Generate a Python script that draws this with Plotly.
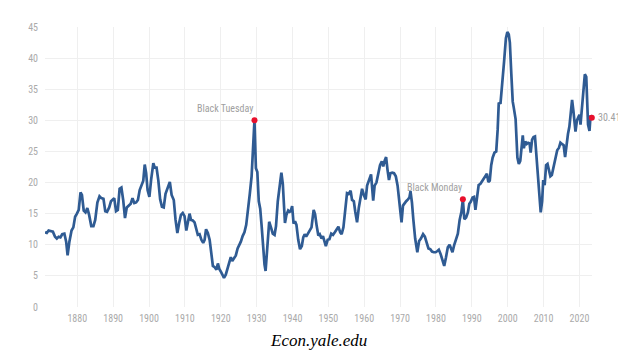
import plotly.graph_objects as go

years = [1871.0,1871.5,1872.0,1872.6,1873.2,1873.8,1874.3,1874.8,1875.3,1875.8,1876.4,1876.9,1877.3,1877.8,1878.4,1878.9,1879.4,1879.9,
1880.4,1880.9,1881.3,1881.8,1882.3,1882.8,1883.3,1883.9,1884.5,1885.0,1885.6,1886.2,1886.7,1887.3,1887.8,1888.3,1888.9,1889.4,1889.9,
1890.3,1890.8,1891.3,1891.8,1892.3,1892.8,1893.3,1893.8,1894.3,1894.9,1895.4,1895.9,1896.4,1896.9,1897.4,1897.9,1898.4,1898.8,1899.2,1899.6,
1900.1,1900.6,1901.2,1901.6,1902.1,1902.6,1903.1,1903.6,1904.1,1904.6,1905.3,1905.8,1906.3,1906.9,1907.4,1907.9,1908.4,1908.9,1909.4,1909.9,
1910.4,1910.9,1911.3,1911.7,1912.2,1912.7,1913.2,1913.6,1914.1,1914.6,1915.1,1915.5,1915.9,1916.4,1916.9,1917.4,1917.8,1918.3,1918.8,1919.2,1919.6,
1920.1,1920.5,1920.9,1921.4,1921.9,1922.4,1922.8,1923.2,1923.7,1924.2,1924.7,1925.2,1925.6,1926.1,1926.6,1927.1,1927.6,1928.1,1928.6,1929.0,1929.4,1929.8,
1930.2,1930.6,1931.0,1931.4,1931.8,1932.2,1932.5,1932.9,1933.5,1934.0,1934.5,1935.0,1935.4,1935.9,1936.4,1936.9,1937.3,1937.6,1937.9,1938.3,1938.8,1939.2,1939.5,1939.9,
1940.3,1940.7,1941.1,1941.6,1942.1,1942.6,1943.0,1943.4,1943.8,1944.3,1944.8,1945.3,1945.9,1946.3,1946.7,1947.2,1947.6,1948.1,1948.5,1948.9,1949.3,1949.8,
1950.3,1950.8,1951.3,1951.8,1952.3,1952.8,1953.3,1953.7,1954.2,1954.7,1955.2,1955.7,1956.2,1956.6,1957.1,1957.5,1958.0,1958.5,1959.0,1959.4,1959.9,
1960.4,1960.8,1961.3,1961.9,1962.5,1962.9,1963.4,1963.9,1964.4,1964.9,1965.3,1965.7,1966.1,1966.5,1966.9,1967.3,1967.8,1968.3,1968.8,1969.3,1969.7,
1970.1,1970.4,1970.8,1971.3,1971.7,1972.2,1972.6,1972.9,1973.3,1973.7,1974.2,1974.8,1975.3,1975.8,1976.4,1976.9,1977.4,1977.9,1978.4,1978.9,1979.4,1979.9,
1980.4,1980.8,1981.3,1981.8,1982.3,1982.8,1983.3,1983.8,1984.3,1984.6,1985.1,1985.6,1986.1,1986.6,1987.1,1987.5,1987.9,1988.4,1988.9,1989.3,1989.7,
1990.2,1990.6,1991.0,1991.4,1991.9,1992.4,1992.9,1993.4,1993.9,1994.2,1994.6,1995.0,1995.4,1995.8,1996.3,1996.8,1997.2,1997.5,1998.0,1998.5,1999.0,1999.5,1999.9,
2000.3,2000.6,2001.0,2001.4,2001.7,2002.2,2002.7,2003.1,2003.5,2003.9,2004.2,2004.5,2004.9,2005.3,2005.7,2006.1,2006.4,2006.8,2007.2,2007.6,2008.0,2008.4,2008.8,2009.2,2009.6,2009.9,
2010.3,2010.7,2011.1,2011.5,2011.9,2012.3,2012.8,2013.3,2013.8,2014.3,2014.7,2015.1,2015.6,2016.0,2016.4,2016.8,2017.2,2017.6,2017.95,2018.3,2018.6,2018.9,2019.3,2019.7,
2020.0,2020.3,2020.6,2020.9,2021.2,2021.5,2021.9,2022.1,2022.4,2022.8,2023.1,2023.45]

cape = [12.0,11.9,12.3,12.2,12.1,11.3,11.0,11.3,11.2,11.7,11.8,10.5,8.3,10.5,12.3,12.8,14.5,15.0,
15.6,18.4,18.0,15.5,15.2,15.9,14.8,13.0,13.0,14.0,16.8,17.8,17.5,17.4,15.4,15.3,16.0,17.0,17.3,
17.5,15.4,15.6,19.0,19.2,17.2,14.3,16.0,16.3,16.6,17.5,16.7,16.8,17.2,18.8,19.5,20.3,22.9,21.5,18.8,
17.7,20.5,23.1,22.4,22.4,20.3,17.3,16.1,16.0,18.2,19.2,20.1,18.0,17.2,14.0,11.9,13.5,14.8,15.1,14.6,
12.3,14.0,15.0,14.0,13.9,13.6,12.5,11.6,11.7,10.8,10.3,10.8,12.5,11.9,10.8,8.5,6.6,6.4,6.0,7.0,6.1,
5.6,5.0,4.7,5.2,6.3,7.4,8.0,7.4,7.9,8.3,9.4,9.9,10.5,11.4,12.0,13.2,15.3,18.2,21.0,25.5,30.0,22.3,
21.7,17.0,15.8,13.0,9.5,6.8,5.8,8.8,13.7,12.8,11.8,11.6,13.0,17.0,19.5,21.6,19.8,16.5,13.5,14.8,15.5,15.3,15.4,16.2,
13.4,13.8,13.2,10.8,9.3,9.8,11.2,11.7,11.3,11.8,12.3,12.8,15.6,14.9,13.2,11.5,11.7,11.0,11.4,10.5,9.8,10.8,
10.9,11.8,11.6,12.0,12.4,12.9,12.0,11.7,12.8,15.5,18.3,18.2,18.7,17.2,17.0,15.3,13.6,16.0,17.8,19.0,18.0,
17.3,19.5,20.2,21.3,17.1,19.5,20.0,21.4,22.8,23.4,22.6,23.5,24.1,22.0,20.4,21.5,21.6,21.5,21.0,19.5,17.5,
15.5,13.6,16.3,16.8,17.0,17.3,17.6,18.6,16.8,14.0,11.0,8.8,10.6,11.0,11.7,11.3,10.3,9.4,9.3,8.9,8.8,8.8,
9.0,9.2,8.5,7.4,6.6,8.0,9.6,10.0,9.2,8.8,10.0,11.0,11.8,14.0,15.3,17.3,14.1,14.4,15.2,16.6,16.9,
17.6,17.7,15.6,17.8,19.6,19.8,20.3,20.6,21.2,21.4,20.1,20.3,22.8,24.0,24.8,25.0,28.5,32.7,32.8,37.0,39.5,43.2,44.2,
43.8,42.5,37.5,33.0,32.0,30.2,24.0,23.0,23.5,26.0,27.6,25.5,26.6,26.2,26.4,26.3,24.8,26.9,27.3,27.4,24.0,20.5,17.5,15.2,17.0,20.4,
19.6,22.8,23.0,22.2,21.0,21.2,22.5,24.0,25.2,25.6,26.4,26.2,26.0,24.1,26.4,27.8,29.0,31.0,33.3,31.6,30.0,28.2,30.0,30.6,
30.9,29.3,31.5,33.5,35.5,37.4,37.0,33.5,29.3,28.3,30.8,30.41]

event_names = ["Black Tuesday", "Black Monday"]
event_years = [1929.4, 1987.5]
event_values = [30.0, 17.3]

x_ticks = [1880, 1890, 1900, 1910, 1920, 1930, 1940, 1950, 1960, 1970, 1980, 1990, 2000, 2010, 2020]
y_ticks = [0, 5, 10, 15, 20, 25, 30, 35, 40, 45]
source_text = "Econ.yale.edu"

line_color = "#2f5b93"
dot_color = "#e8102c"
label_color = "#a0a0a0"
narrow = "Liberation Sans Narrow, Arial Narrow, Roboto Condensed, sans-serif"

fig = go.Figure()
fig.add_trace(go.Scatter(x=years, y=cape, mode="lines",
                         line=dict(color=line_color, width=2.7), hoverinfo="skip"))
fig.add_trace(go.Scatter(x=event_years + [years[-1]], y=event_values + [cape[-1]], mode="markers",
                         marker=dict(color=dot_color, size=6), cliponaxis=False, hoverinfo="skip"))

for name, ex, ev in zip(event_names, event_years, event_values):
    fig.add_annotation(x=ex, y=ev, text=name, showarrow=False, xanchor="right", yanchor="middle",
                       yshift=12, xshift=1, font=dict(family=narrow, size=10, color=label_color))

fig.add_annotation(x=years[-1], y=cape[-1], text=f"{cape[-1]:.2f}", showarrow=False,
                   xanchor="left", yanchor="middle", xshift=4,
                   font=dict(family=narrow, size=10, color=label_color))

fig.add_annotation(x=0.5, xref="paper", y=0, yref="paper", yanchor="middle", xanchor="center", yshift=-33,
                   text=f"<i>{source_text}</i>", showarrow=False,
                   font=dict(family="Liberation Serif", size=17, color="#000000"))

fig.update_layout(
    width=618, height=345, autosize=False,
    margin=dict(l=37, r=34, t=19, b=46),
    paper_bgcolor="white", plot_bgcolor="white",
    showlegend=False,
    xaxis=dict(range=[1871.0, 2023.5], tickvals=x_ticks, showgrid=True, gridcolor="#efefef", gridwidth=1.2,
               zeroline=False, showline=False, ticks="", ticklabelstandoff=4,
               tickfont=dict(family=narrow, size=10, color="#aaaaaa")),
    yaxis=dict(range=[0, 45], tickvals=y_ticks, showgrid=True, gridcolor="#efefef", gridwidth=1.2,
               zeroline=False, showline=False, ticks="", ticklabelstandoff=6,
               tickfont=dict(family=narrow, size=10, color="#aaaaaa")),
)

fig.write_html("out.html")
